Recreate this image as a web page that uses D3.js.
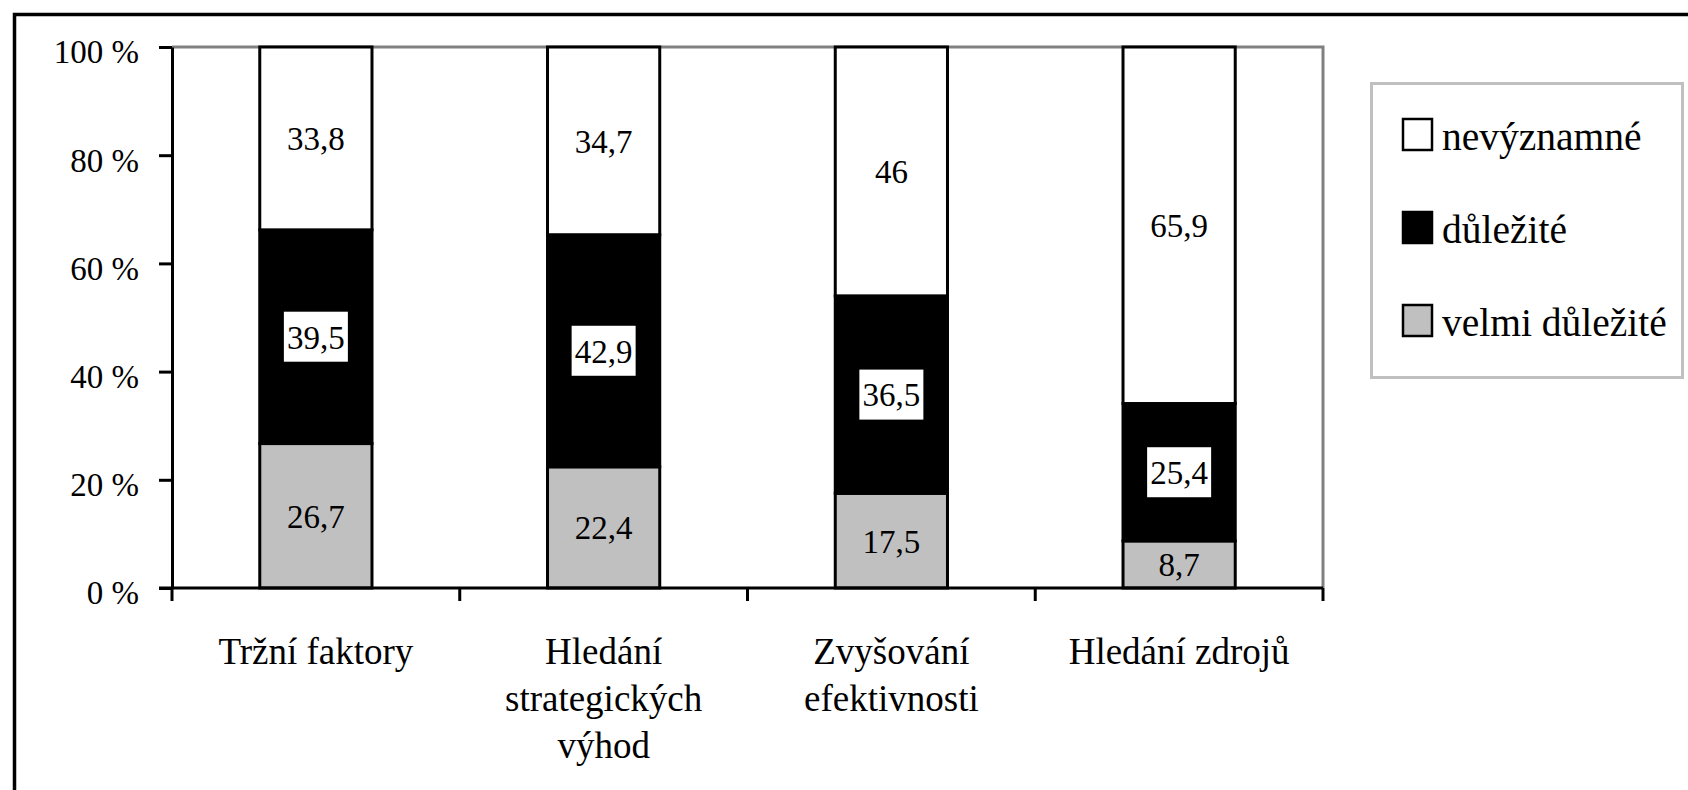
<!DOCTYPE html>
<html>
<head>
<meta charset="utf-8">
<script src="https://cdn.jsdelivr.net/npm/d3@7"></script>
<style>
  html, body { margin: 0; padding: 0; background: #fff; overflow: hidden; }
  svg { display: block; }
  text { font-family: "Liberation Serif", "Times New Roman", serif; fill: #000; }
</style>
</head>
<body>
<svg id="chart" width="1688" height="790"></svg>
<script>
// ---- data ----
const categories = ["Tržní faktory", "Hledání strategických výhod", "Zvyšování efektivnosti", "Hledání zdrojů"];
const categoryLines = [["Tržní faktory"], ["Hledání", "strategických", "výhod"], ["Zvyšování", "efektivnosti"], ["Hledání zdrojů"]];
const seriesNames = ["velmi důležité", "důležité", "nevýznamné"];
const velmiDulezite = [26.7, 22.4, 17.5, 8.7];
const dulezite = [39.5, 42.9, 36.5, 25.4];
const nevyznamne = [33.8, 34.7, 46, 65.9];
const yTicks = [0, 20, 40, 60, 80, 100];
const legendOrder = ["nevýznamné", "důležité", "velmi důležité"];

// ---- styles ----
const colors = { "velmi důležité": "#c0c0c0", "důležité": "#000000", "nevýznamné": "#ffffff" };
const plot = { left: 172, right: 1323, top: 47, bottom: 588 };

const rows = categories.map((c, i) => ({
  category: c,
  "velmi důležité": velmiDulezite[i],
  "důležité": dulezite[i],
  "nevýznamné": nevyznamne[i]
}));

const svg = d3.select("#chart");

// outer frame (continues past the right and bottom edges)
svg.append("rect").attr("x", 14.5).attr("y", 14.5).attr("width", 1720).attr("height", 820)
  .attr("fill", "#fff").attr("stroke", "#000").attr("stroke-width", 3.5);

const x = d3.scaleBand().domain(categories).range([plot.left, plot.right])
  .paddingInner(0.61).paddingOuter(0.305);
const y = d3.scaleLinear().domain([0, 100]).range([plot.bottom, plot.top]);

// gray plot frame (top & right)
svg.append("path")
  .attr("d", `M${plot.left},${plot.top}H${plot.right}V${plot.bottom}`)
  .attr("fill", "none").attr("stroke", "#808080").attr("stroke-width", 3);

// stacked bars
const stack = d3.stack().keys(seriesNames)(rows);
const fmt = v => String(v).replace(".", ",");

const layers = svg.append("g").selectAll("g").data(stack).join("g")
  .attr("fill", d => colors[d.key]);
layers.selectAll("rect").data(d => d).join("rect")
  .attr("x", d => x(d.data.category))
  .attr("width", x.bandwidth())
  .attr("y", d => y(d[1]))
  .attr("height", d => y(d[0]) - y(d[1]))
  .attr("stroke", "#000").attr("stroke-width", 3);

// data labels
const labelG = svg.append("g");
stack.forEach(layer => {
  layer.forEach(d => {
    const cx = x(d.data.category) + x.bandwidth() / 2;
    const cy = (y(d[0]) + y(d[1])) / 2;
    if (layer.key === "důležité") {
      labelG.append("rect").attr("x", cx - 32).attr("y", cy - 25)
        .attr("width", 64).attr("height", 50).attr("fill", "#fff");
    }
    labelG.append("text").attr("x", cx).attr("y", cy).attr("dy", "0.36em")
      .attr("text-anchor", "middle").attr("font-size", 33)
      .text(fmt(d.data[layer.key]));
  });
});

// y axis
const yAxis = svg.append("g").attr("transform", `translate(${plot.left},0)`)
  .call(d3.axisLeft(y).tickValues(yTicks).tickSize(13).tickSizeOuter(0).tickPadding(20)
    .tickFormat(d => d + " %"));
yAxis.select(".domain").attr("stroke", "#000").attr("stroke-width", 3);
yAxis.selectAll(".tick line").attr("stroke", "#000").attr("stroke-width", 3);
yAxis.selectAll(".tick text").attr("font-size", 33).attr("dy", "0.48em")
  .attr("font-family", "Liberation Serif, serif").attr("fill", "#000");

// x axis line & boundary ticks
svg.append("line").attr("x1", plot.left - 13).attr("x2", plot.right)
  .attr("y1", plot.bottom).attr("y2", plot.bottom)
  .attr("stroke", "#000").attr("stroke-width", 3);
const bounds = d3.range(categories.length + 1).map(i => plot.left + i * x.step());
svg.append("g").selectAll("line").data(bounds).join("line")
  .attr("x1", d => d).attr("x2", d => d)
  .attr("y1", plot.bottom).attr("y2", plot.bottom + 13)
  .attr("stroke", "#000").attr("stroke-width", 3);

// category labels
categories.forEach((c, i) => {
  const t = svg.append("text").attr("x", x(c) + x.bandwidth() / 2).attr("y", 664)
    .attr("text-anchor", "middle").attr("font-size", 37);
  categoryLines[i].forEach((ln, j) => {
    t.append("tspan").attr("x", x(c) + x.bandwidth() / 2).attr("y", 664 + j * 47).text(ln);
  });
});

// legend
const lg = svg.append("g");
lg.append("rect").attr("x", 1371.5).attr("y", 83.5).attr("width", 311).attr("height", 294)
  .attr("fill", "#fff").attr("stroke", "#c0c0c0").attr("stroke-width", 3);
legendOrder.forEach((name, i) => {
  const base = 150 + i * 93;
  lg.append("rect").attr("x", 1403).attr("y", base - 31).attr("width", 29).attr("height", 31)
    .attr("fill", colors[name]).attr("stroke", "#000").attr("stroke-width", 2.5);
  lg.append("text").attr("x", 1442).attr("y", base).attr("font-size", 39.5).text(name);
});
</script>
</body>
</html>
